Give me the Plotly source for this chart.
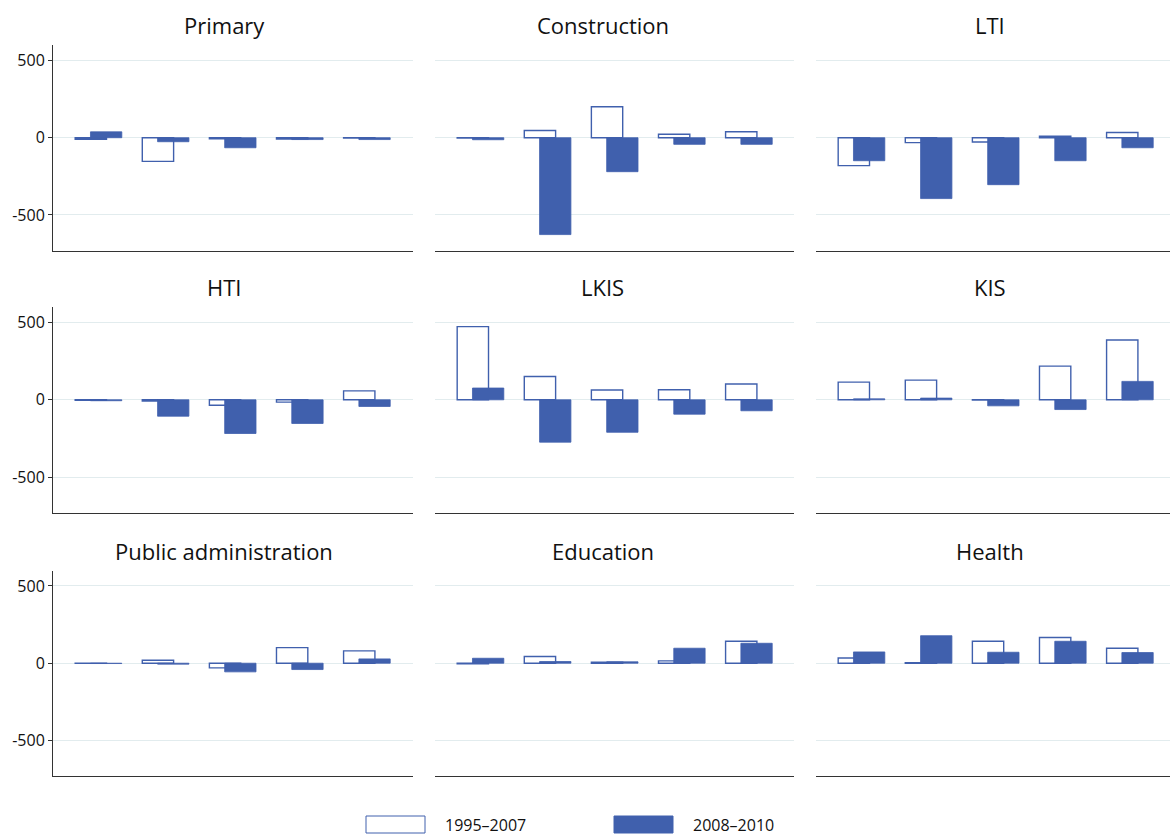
import plotly.graph_objects as go

W, H = 1170, 835

panels = ["Primary", "Construction", "LTI",
          "HTI", "LKIS", "KIS",
          "Public administration", "Education", "Health"]
groups = [1, 2, 3, 4, 5]

series_names = ["1995\u20132007", "2008\u20132010"]

primary_a = [-10, -153, -7, -8, -3]
primary_b = [38, -26, -65, -12, -12]
construction_a = [-3, 47, 200, 22, 39]
construction_b = [-13, -627, -220, -43, -43]
lti_a = [-181, -32, -28, 9, 34]
lti_b = [-149, -394, -304, -149, -65]
hti_a = [-4, -8, -35, -15, 58]
hti_b = [-6, -106, -218, -153, -43]
lkis_a = [473, 151, 63, 65, 102]
lkis_b = [76, -274, -210, -93, -71]
kis_a = [114, 127, -2, 218, 387]
kis_b = [6, 11, -39, -63, 119]
pubadm_a = [-1, 19, -30, 101, 80]
pubadm_b = [-2, -6, -56, -41, 28]
education_a = [-4, 43, 6, 15, 142]
education_b = [32, 11, 9, 97, 129]
health_a = [34, 3, 142, 166, 97]
health_b = [73, 178, 71, 142, 69]

values_a = [primary_a, construction_a, lti_a, hti_a, lkis_a, kis_a, pubadm_a, education_a, health_a]
values_b = [primary_b, construction_b, lti_b, hti_b, lkis_b, kis_b, pubadm_b, education_b, health_b]

y_ticks = [-500, 0, 500]
y_ticktext = ["-500", "0", "500"]

BLUE = "#4060AD"
GRID = "#E2ECEE"
AXIS = "#333333"
FONT = "Open Sans"

# panel geometry in pixels
col_px = [(53, 413), (435, 794), (816, 1170)]
row_px = [(45, 250.5), (307, 512.7), (570.5, 776)]
title_x = [224, 603, 990]
title_y = [25, 287, 551]
px_per_unit = 67.1
x_start = 0.322
bar_w = 0.467
off_a = -0.114 - bar_w / 2
off_b = 0.114 - bar_w / 2

fig = go.Figure()
layout = dict(
    width=W, height=H,
    margin=dict(l=0, r=0, t=0, b=0),
    paper_bgcolor="white", plot_bgcolor="white",
    barmode="overlay",
    showlegend=False,
    font=dict(family=FONT, color="#111111"),
    annotations=[], shapes=[],
)

for i, name in enumerate(panels):
    r, c = divmod(i, 3)
    k = i + 1
    xa = "x" if k == 1 else f"x{k}"
    ya = "y" if k == 1 else f"y{k}"
    fig.add_trace(go.Bar(
        x=groups, y=values_a[i], name=series_names[0],
        xaxis=xa, yaxis=ya, width=bar_w, offset=off_a,
        marker=dict(color="white", line=dict(color=BLUE, width=1.4)),
    ))
    fig.add_trace(go.Bar(
        x=groups, y=values_b[i], name=series_names[1],
        xaxis=xa, yaxis=ya, width=bar_w, offset=off_b,
        marker=dict(color=BLUE, line=dict(color=BLUE, width=0.8)),
    ))
    x0, x1 = col_px[c]
    y0, y1 = row_px[r]
    xr = [x_start, x_start + (x1 - x0) / px_per_unit]
    layout["xaxis" if k == 1 else f"xaxis{k}"] = dict(
        domain=[x0 / W, x1 / W], range=xr, anchor=ya,
        showline=True, linecolor=AXIS, linewidth=1.3,
        showgrid=False, zeroline=False, showticklabels=False, ticks="",
    )
    left = (c == 0)
    layout["yaxis" if k == 1 else f"yaxis{k}"] = dict(
        domain=[(H - y1) / H, (H - y0) / H], range=[-730, 600], anchor=xa,
        tickvals=y_ticks, ticktext=y_ticktext,
        showgrid=True, gridcolor=GRID, gridwidth=1.2, zeroline=False,
        showline=left, linecolor=AXIS, linewidth=1,
        ticks="outside" if left else "", ticklen=4, tickcolor=AXIS,
        showticklabels=left, tickfont=dict(size=16, family=FONT, color="#111111"),
    )
    layout["annotations"].append(dict(
        text=name, x=title_x[c] / W, y=(H - title_y[r]) / H,
        xref="paper", yref="paper", xanchor="center", yanchor="middle",
        showarrow=False, font=dict(size=22, family=FONT, color="#111111"),
    ))

# legend drawn as shapes + text
leg = [(366, 425, 443, "white"), (614, 673, 691, BLUE)]
for (lx0, lx1, tx, fillc), nm in zip(leg, series_names):
    layout["shapes"].append(dict(
        type="rect", xref="paper", yref="paper",
        x0=lx0 / W, x1=lx1 / W, y0=(H - 833) / H, y1=(H - 816) / H,
        fillcolor=fillc, line=dict(color=BLUE, width=1),
    ))
    layout["annotations"].append(dict(
        text=nm, x=tx / W, y=(H - 825) / H, xref="paper", yref="paper",
        xanchor="left", yanchor="middle", showarrow=False,
        font=dict(size=16, family=FONT, color="#111111"),
    ))

fig.update_layout(**layout)
fig.write_html(
    "out.html",
    config={"displayModeBar": False},
    post_script="document.body.style.margin='0';document.body.style.overflow='hidden';",
)
